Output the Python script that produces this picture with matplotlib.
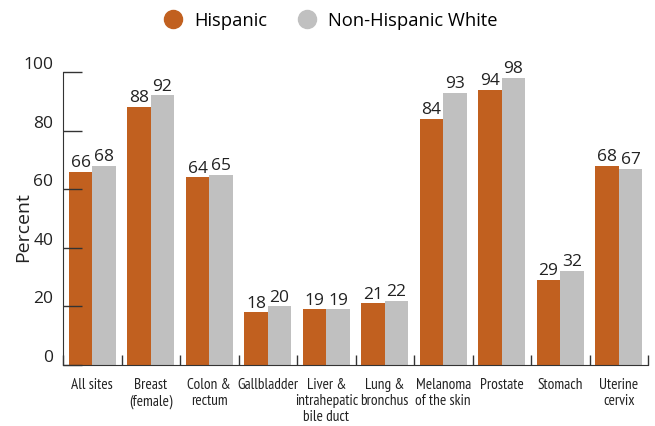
import numpy as np
import matplotlib.pyplot as plt
from matplotlib.lines import Line2D

main_font = ["Open Sans", "DejaVu Sans"]
narrow_font = ["PT Sans Narrow", "Open Sans", "DejaVu Sans"]
plt.rcParams['font.family'] = main_font

sites = ["All sites", "Breast\n(female)", "Colon &\nrectum", "Gallbladder",
         "Liver &\nintrahepatic\nbile duct", "Lung &\nbronchus",
         "Melanoma\nof the skin", "Prostate", "Stomach", "Uterine\ncervix"]
hispanic = [66, 88, 64, 18, 19, 21, 84, 94, 29, 68]
nh_white = [68, 92, 65, 20, 19, 22, 93, 98, 32, 67]
yticks = [0, 20, 40, 60, 80, 100]

orange = "#C1601F"
grey = "#C0C0C0"
dark = "#333333"

fig = plt.figure(figsize=(6.55, 4.27), dpi=100)
ax = fig.add_axes([63 / 655, 61 / 427, 585 / 655, 293 / 427])

x = np.arange(len(sites))
w = 0.4
b1 = ax.bar(x - w / 2, hispanic, w, color=orange)
b2 = ax.bar(x + w / 2, nh_white, w, color=grey)

for bars, vals in ((b1, hispanic), (b2, nh_white)):
    for bar, v in zip(bars, vals):
        ax.text(bar.get_x() + bar.get_width() / 2, v + 0.6, str(v),
                ha="center", va="bottom", fontsize=12.5, color="#222222",
                clip_on=False)

ax.set_xlim(-0.5, len(sites) - 0.5)
ax.set_ylim(0, 100)

for s in ["top", "right"]:
    ax.spines[s].set_visible(False)
ax.spines["left"].set_color(dark)
ax.spines["bottom"].set_color(dark)

ax.set_yticks(yticks)
ax.set_yticklabels([str(t) for t in yticks], fontsize=12.5, color="#222222")
for lab in ax.get_yticklabels():
    lab.set_va("bottom")
ax.tick_params(axis="y", direction="in", length=14, width=1, color=dark, pad=7)

ax.set_xticks(x)
ax.set_xticklabels(sites, fontsize=11, family=narrow_font, linespacing=1.15,
                   color="#222222")
ax.set_xticks(np.arange(len(sites) + 1) - 0.5, minor=True)
ax.tick_params(axis="x", which="major", length=0, pad=9)
ax.tick_params(axis="x", which="minor", direction="in", length=7, width=1, color=dark)

ax.set_ylabel("Percent", fontsize=14, color="#222222")
ax.yaxis.set_label_coords(-0.053, 0.475)

handles = [Line2D([], [], marker="o", ls="", color=orange, markersize=13),
           Line2D([], [], marker="o", ls="", color=grey, markersize=13)]
fig.legend(handles, ["Hispanic", "Non-Hispanic White"], loc="upper center",
           bbox_to_anchor=(0.498, 1.01), ncol=2, frameon=False, handletextpad=0.15,
           columnspacing=1.2, prop={"size": 13.2})

fig.savefig("out.png", dpi=100)
